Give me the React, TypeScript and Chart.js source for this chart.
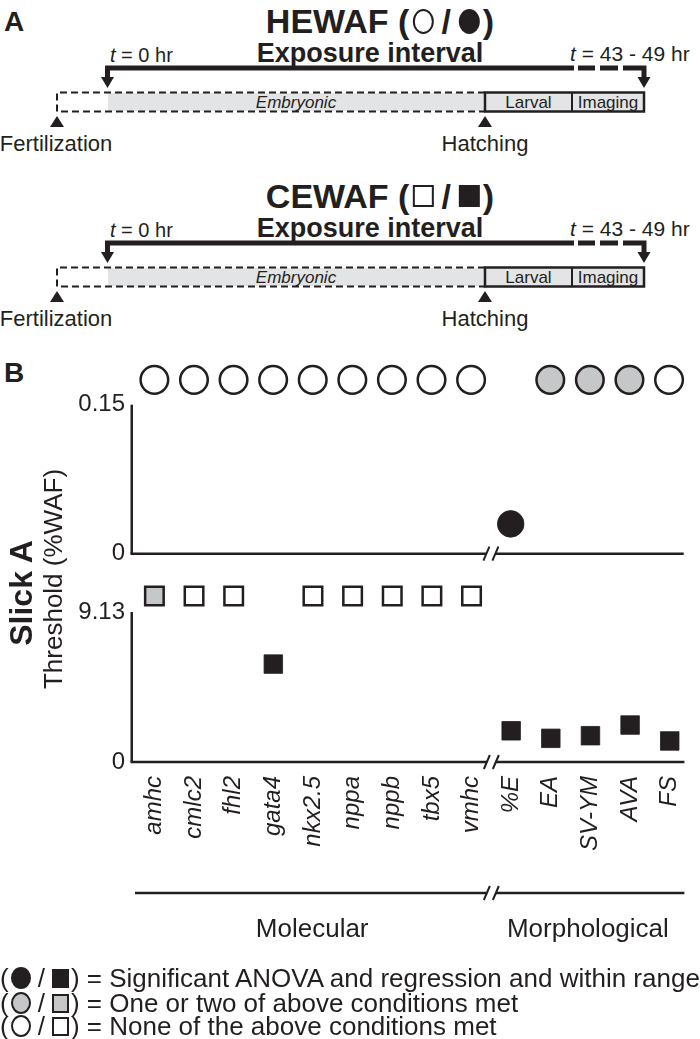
import React, { useEffect, useRef } from 'react';
import { Chart, registerables } from 'chart.js';

Chart.register(...registerables);

const FONT = '"Liberation Sans", Arial, Helvetica, sans-serif';
const INK = '#231f20';
const GRAY = '#c6c7c9';
const LIGHT = '#e3e4e5';

// ---------------- data ----------------
const categories = ['amhc', 'cmlc2', 'fhl2', 'gata4', 'nkx2.5', 'nppa', 'nppb', 'tbx5', 'vmhc', '%E', 'EA', 'SV-YM', 'AVA', 'FS'];
const groups = ['Molecular', 'Morphological'];
const groupSizes = [9, 5];

// HEWAF (circles) – threshold in %WAF; null = no threshold within range
const hewafThreshold: (number | null)[] = [null, null, null, null, null, null, null, null, null, 0.03, null, null, null, null];
const hewafStatus = ['none', 'none', 'none', 'none', 'none', 'none', 'none', 'none', 'none', 'sig', 'partial', 'partial', 'partial', 'none'];
// CEWAF (squares)
const cewafThreshold: (number | null)[] = [null, null, null, 5.96, null, null, null, null, null, 1.9, 1.44, 1.6, 2.25, 1.28];
const cewafStatus = ['partial', 'none', 'none', 'sig', 'none', 'none', 'none', 'none', 'none', 'sig', 'sig', 'sig', 'sig', 'sig'];

const hewafTicks = [0, 0.15];
const cewafTicks = [0, 9.13];
// level (above the axis maximum) where endpoints without a threshold are shown
const hewafOffScale = 0.175;
const cewafOffScale = 10.1;
// plotting range upper limit (room for the off-scale row)
const hewafRangeMax = 0.2;
const cewafRangeMax = 11.2;

const statusKinds = [
  { key: 'sig', fill: INK, text: 'Significant ANOVA and regression and within range' },
  { key: 'partial', fill: GRAY, text: 'One or two of above conditions met' },
  { key: 'none', fill: '#ffffff', text: 'None of the above conditions met' },
];

const X_MIN = -0.54;
const X_MAX = 13.37;

function brokenLine(ctx: CanvasRenderingContext2D, x0: number, x1: number, y: number, bx: number) {
  ctx.lineWidth = 2.5;
  ctx.beginPath();
  ctx.moveTo(x0, y);
  ctx.lineTo(bx - 4.5, y);
  ctx.moveTo(bx + 4.5, y);
  ctx.lineTo(x1, y);
  ctx.stroke();
  ctx.lineWidth = 2;
  ctx.beginPath();
  for (const c of [bx - 4.5, bx + 4.5]) {
    ctx.moveTo(c - 3, y + 7);
    ctx.lineTo(c + 3, y - 7);
  }
  ctx.stroke();
}

function makeConfig(isTop: boolean): any {
  const thr = isTop ? hewafThreshold : cewafThreshold;
  const st = isTop ? hewafStatus : cewafStatus;
  const off = isTop ? hewafOffScale : cewafOffScale;
  const ticks = isTop ? hewafTicks : cewafTicks;
  const rangeMax = isTop ? hewafRangeMax : cewafRangeMax;
  const datasets = statusKinds.map((k) => {
    const pts: { x: number; y: number }[] = [];
    categories.forEach((_, i) => {
      if (st[i] === k.key) pts.push({ x: i, y: thr[i] ?? off });
    });
    const filled = k.key === 'sig';
    const r = isTop ? (filled ? 13.3 : 13.8) : 13.1;
    return {
      label: k.key,
      data: pts,
      showLine: false,
      clip: false,
      pointStyle: isTop ? 'circle' : 'rect',
      pointRadius: r,
      pointHoverRadius: r,
      pointBackgroundColor: k.fill,
      pointBorderColor: INK,
      pointBorderWidth: filled ? 0.8 : 2.5,
    };
  });

  const decor = {
    id: 'decor',
    beforeDatasetsDraw(chart: any) {
      const { ctx, chartArea: a } = chart;
      const xs = chart.scales.x;
      const ys = chart.scales.y;
      const bx = (xs.getPixelForValue(groupSizes[0] - 1) + xs.getPixelForValue(groupSizes[0])) / 2;
      ctx.save();
      ctx.strokeStyle = INK;
      // y axis line from 0 to the top tick
      ctx.lineWidth = 2.5;
      ctx.beginPath();
      ctx.moveTo(a.left - 1.25, ys.getPixelForValue(ticks[ticks.length - 1]));
      ctx.lineTo(a.left - 1.25, a.bottom);
      ctx.stroke();
      brokenLine(ctx, a.left - 2.5, a.right, a.bottom, bx);
      if (!isTop) {
        const gy = a.bottom + 131;
        brokenLine(ctx, a.left + 2, a.right, gy, bx);
        ctx.fillStyle = INK;
        ctx.font = `26px ${FONT}`;
        ctx.textAlign = 'center';
        ctx.textBaseline = 'middle';
        ctx.fillText(groups[0], (a.left + bx) / 2, gy + 37);
        ctx.fillText(groups[1], (bx + a.right) / 2, gy + 37);
      }
      ctx.restore();
    },
  };

  return {
    type: 'scatter',
    data: { datasets },
    options: {
      animation: false,
      responsive: false,
      maintainAspectRatio: false,
      events: [],
      layout: { padding: isTop ? { top: 25, bottom: 14, left: 0, right: 2 } : { top: 18, bottom: 0, left: 0, right: 2 } },
      plugins: { legend: { display: false }, tooltip: { enabled: false } },
      scales: {
        x: {
          type: 'linear',
          min: X_MIN,
          max: X_MAX,
          display: !isTop,
          afterBuildTicks: (s: any) => {
            s.ticks = categories.map((_, i) => ({ value: i }));
          },
          afterFit: (s: any) => {
            if (!isTop) s.height = 198;
            s.paddingLeft = 0;
            s.paddingRight = 0;
          },
          grid: { display: false, drawTicks: false },
          border: { display: false },
          ticks: {
            autoSkip: false,
            maxRotation: 90,
            minRotation: 90,
            color: INK,
            padding: 14,
            font: { family: FONT, size: 24, style: 'italic' },
            callback: (v: number) => categories[v] ?? '',
          },
        },
        y: {
          type: 'linear',
          min: 0,
          max: rangeMax,
          afterBuildTicks: (s: any) => {
            s.ticks = ticks.map((v) => ({ value: v }));
          },
          afterFit: (s: any) => {
            s.width = 133;
            s.paddingTop = 0;
            s.paddingBottom = 0;
          },
          grid: { display: false, drawTicks: false },
          border: { display: false },
          ticks: {
            color: INK,
            padding: 8,
            font: { family: FONT, size: 24 },
            callback: (v: number) => String(v),
          },
        },
      },
    },
    plugins: [decor],
  };
}

function ChartPanel({ isTop, top, height }: { isTop: boolean; top: number; height: number }) {
  const ref = useRef<HTMLCanvasElement>(null);
  useEffect(() => {
    const chart = new Chart(ref.current as HTMLCanvasElement, makeConfig(isTop));
    return () => chart.destroy();
  }, [isTop]);
  return (
    <canvas
      ref={ref}
      width={700}
      height={height}
      style={{ position: 'absolute', left: 0, top, width: 700, height }}
    />
  );
}

function Shape({ kind, fill, w, h, bw }: { kind: 'circle' | 'square'; fill: string; w: number; h: number; bw: number }) {
  return (
    <span
      style={{
        display: 'inline-block',
        width: w,
        height: h,
        boxSizing: 'border-box',
        border: `${bw}px solid ${INK}`,
        background: fill,
        borderRadius: kind === 'circle' ? '50%' : 0,
      }}
    />
  );
}

function Title({ name, kind, top }: { name: string; kind: 'circle' | 'square'; top: number }) {
  const w = 21;
  const h = kind === 'circle' ? 25 : 22;
  return (
    <div
      style={{
        position: 'absolute',
        left: 380,
        top,
        transform: 'translate(-50%, -50%)',
        display: 'flex',
        alignItems: 'center',
        fontWeight: 'bold',
        fontSize: 34,
        lineHeight: 1,
        whiteSpace: 'nowrap',
      }}
    >
      <span>{name} (</span>
      <span style={{ marginLeft: 3 }} />
      <Shape kind={kind} fill="#fff" w={w} h={h} bw={2} />
      <span style={{ margin: '0 8px' }}>/</span>
      <Shape kind={kind} fill={INK} w={w} h={h} bw={0} />
      <span style={{ marginLeft: 3 }}>)</span>
    </div>
  );
}

function Timeline({ oy, name, kind }: { oy: number; name: string; kind: 'circle' | 'square' }) {
  return (
    <div style={{ position: 'absolute', left: 0, top: oy, width: 700, height: 175 }}>
      <Title name={name} kind={kind} top={21} />
      <svg width={700} height={175} style={{ position: 'absolute', left: 0, top: 0 }} fontFamily={FONT}>
        <text x={110} y={55} fontSize={20} dominantBaseline="central" fill={INK}>
          <tspan fontStyle="italic">t</tspan> = 0 hr
        </text>
        <text x={370} y={53} fontSize={27} fontWeight="bold" textAnchor="middle" dominantBaseline="central" fill={INK}>
          Exposure interval
        </text>
        <text x={570} y={53} fontSize={21} dominantBaseline="central" fill={INK}>
          <tspan fontStyle="italic">t</tspan> = 43 - 49 hr
        </text>
        {/* exposure arrow */}
        <path d="M107.5 79 V68 H574" stroke={INK} strokeWidth={5} fill="none" strokeLinejoin="miter" />
        <path d="M578 68 H595 M600 68 H618 M623 68 H644 V79" stroke={INK} strokeWidth={5} fill="none" />
        <polygon points="101,77 114,77 107.5,88" fill={INK} />
        <polygon points="637.5,77 650.5,77 644,88" fill={INK} />
        {/* stage bar */}
        <rect x={108} y={93} width={377} height={18} fill={LIGHT} />
        <path d="M485 92.5 H57 V111.5 H485" stroke={INK} strokeWidth={2} fill="none" strokeDasharray="7 4" />
        <rect x={485} y={92.5} width={159} height={19} fill={LIGHT} stroke={INK} strokeWidth={2.5} />
        <line x1={572} y1={92.5} x2={572} y2={111.5} stroke={INK} strokeWidth={2} />
        <text x={296} y={102} fontSize={17} fontStyle="italic" textAnchor="middle" dominantBaseline="central" fill={INK}>
          Embryonic
        </text>
        <text x={528.5} y={102} fontSize={17} textAnchor="middle" dominantBaseline="central" fill={INK}>
          Larval
        </text>
        <text x={608} y={102} fontSize={17} textAnchor="middle" dominantBaseline="central" fill={INK}>
          Imaging
        </text>
        <polygon points="57,116 50,127 64,127" fill={INK} />
        <polygon points="485,116 478,127 492,127" fill={INK} />
        <text x={56} y={143} fontSize={22} textAnchor="middle" dominantBaseline="central" fill={INK}>
          Fertilization
        </text>
        <text x={485} y={143} fontSize={22} textAnchor="middle" dominantBaseline="central" fill={INK}>
          Hatching
        </text>
      </svg>
    </div>
  );
}

function LegendRow({ fill, text, cy }: { fill: string; text: string; cy: number }) {
  return (
    <div
      style={{
        position: 'absolute',
        left: 0,
        top: cy - 12,
        height: 24,
        display: 'flex',
        alignItems: 'center',
        fontSize: 26,
        lineHeight: '24px',
        whiteSpace: 'nowrap',
      }}
    >
      <span>(</span>
      <span style={{ marginLeft: 2 }} />
      <Shape kind="circle" fill={fill} w={20} h={22} bw={fill === INK ? 0 : 2} />
      <span style={{ margin: '0 7px' }}>/</span>
      <Shape kind="square" fill={fill} w={17} h={19} bw={fill === INK ? 0 : 2} />
      <span style={{ marginLeft: 2 }}>) = {text}</span>
    </div>
  );
}

export default function App() {
  const legendY = [978, 1003, 1026];
  return (
    <div
      style={{
        position: 'absolute',
        left: 0,
        top: 0,
        width: 700,
        height: 1039,
        background: '#fff',
        overflow: 'hidden',
        fontFamily: FONT,
        color: INK,
      }}
    >
      <div style={{ position: 'absolute', left: 4, top: 22, transform: 'translateY(-50%)', fontSize: 28, fontWeight: 'bold', lineHeight: 1 }}>A</div>
      <Timeline oy={0} name="HEWAF" kind="circle" />
      <Timeline oy={175} name="CEWAF" kind="square" />
      <div style={{ position: 'absolute', left: 4, top: 373, transform: 'translateY(-50%)', fontSize: 28, fontWeight: 'bold', lineHeight: 1 }}>B</div>
      <ChartPanel isTop top={330} height={240} />
      <ChartPanel isTop={false} top={560} height={400} />
      <svg width={100} height={1039} style={{ position: 'absolute', left: 0, top: 0 }} fontFamily={FONT}>
        <text transform="translate(32 593) rotate(-90)" fontSize={32} fontWeight="bold" textAnchor="middle" fill={INK}>
          Slick A
        </text>
        <text transform="translate(62 579) rotate(-90)" fontSize={26} textAnchor="middle" fill={INK}>
          Threshold (%WAF)
        </text>
      </svg>
      {statusKinds.map((k, i) => (
        <LegendRow key={k.key} fill={k.fill} text={k.text} cy={legendY[i]} />
      ))}
    </div>
  );
}
